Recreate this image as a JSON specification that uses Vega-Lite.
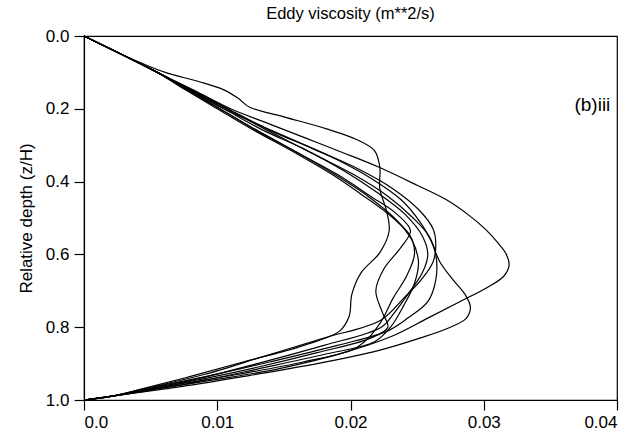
{
"$schema": "https://vega.github.io/schema/vega-lite/v6.json",
"width": 533, "height": 364,
"autosize": "none",
"padding": {"left": 84, "top": 36, "right": 12, "bottom": 45},
"config": {
  "view": {"stroke": "black", "strokeWidth": 1.2},
  "font": "Liberation Sans",
  "axis": {"domainColor": "black", "domainWidth": 1.2, "tickColor": "black", "tickWidth": 1.2, "tickSize": 10, "labelColor": "black", "titleColor": "black", "labelFontSize": 17, "titleFontSize": 17, "titleFontWeight": "normal", "grid": false}
},
"title": {"text": "Eddy viscosity (m**2/s)", "fontSize": 16.5, "fontWeight": "normal", "offset": 5, "anchor": "middle", "frame": "group", "color": "black"},
"layer": [
{
 "data": {"values": [
{"c":"C1","i":0,"x":0,"z":0},{"c":"C1","i":1,"x":0.0028,"z":0.05},{"c":"C1","i":2,"x":0.0055,"z":0.1},{"c":"C1","i":3,"x":0.0083,"z":0.15},{"c":"C1","i":4,"x":0.011,"z":0.2},{"c":"C1","i":5,"x":0.0138,"z":0.24},{"c":"C1","i":6,"x":0.0166,"z":0.28},{"c":"C1","i":7,"x":0.0194,"z":0.32},{"c":"C1","i":8,"x":0.0221,"z":0.36},{"c":"C1","i":9,"x":0.025,"z":0.41},{"c":"C1","i":10,"x":0.0272,"z":0.45},{"c":"C1","i":11,"x":0.0288,"z":0.49},{"c":"C1","i":12,"x":0.0301,"z":0.53},{"c":"C1","i":13,"x":0.0311,"z":0.57},{"c":"C1","i":14,"x":0.0317,"z":0.6},{"c":"C1","i":15,"x":0.0319,"z":0.63},{"c":"C1","i":16,"x":0.0315,"z":0.66},{"c":"C1","i":17,"x":0.0303,"z":0.69},{"c":"C1","i":18,"x":0.0282,"z":0.73},{"c":"C1","i":19,"x":0.0258,"z":0.775},{"c":"C1","i":20,"x":0.0231,"z":0.825},{"c":"C1","i":21,"x":0.0195,"z":0.87},{"c":"C1","i":22,"x":0.0145,"z":0.915},{"c":"C1","i":23,"x":0.0095,"z":0.946},{"c":"C1","i":24,"x":0.006,"z":0.967},{"c":"C1","i":25,"x":0.0035,"z":0.982},{"c":"C1","i":26,"x":0.002,"z":0.99},{"c":"C1","i":27,"x":0,"z":1},
{"c":"C2","i":0,"x":0,"z":0},{"c":"C2","i":1,"x":0.0028,"z":0.05},{"c":"C2","i":2,"x":0.0055,"z":0.1},{"c":"C2","i":3,"x":0.008,"z":0.15},{"c":"C2","i":4,"x":0.0105,"z":0.2},{"c":"C2","i":5,"x":0.0135,"z":0.25},{"c":"C2","i":6,"x":0.016,"z":0.29},{"c":"C2","i":7,"x":0.019,"z":0.34},{"c":"C2","i":8,"x":0.0215,"z":0.39},{"c":"C2","i":9,"x":0.0238,"z":0.45},{"c":"C2","i":10,"x":0.0252,"z":0.51},{"c":"C2","i":11,"x":0.026,"z":0.56},{"c":"C2","i":12,"x":0.0267,"z":0.62},{"c":"C2","i":13,"x":0.0277,"z":0.67},{"c":"C2","i":14,"x":0.0286,"z":0.71},{"c":"C2","i":15,"x":0.029,"z":0.745},{"c":"C2","i":16,"x":0.0287,"z":0.775},{"c":"C2","i":17,"x":0.0275,"z":0.8},{"c":"C2","i":18,"x":0.0252,"z":0.83},{"c":"C2","i":19,"x":0.022,"z":0.865},{"c":"C2","i":20,"x":0.0175,"z":0.9},{"c":"C2","i":21,"x":0.012,"z":0.935},{"c":"C2","i":22,"x":0.0075,"z":0.962},{"c":"C2","i":23,"x":0.004,"z":0.98},{"c":"C2","i":24,"x":0.002,"z":0.99},{"c":"C2","i":25,"x":0,"z":1},
{"c":"C3","i":0,"x":0,"z":0},{"c":"C3","i":1,"x":0.0028,"z":0.05},{"c":"C3","i":2,"x":0.0055,"z":0.1},{"c":"C3","i":3,"x":0.0082,"z":0.15},{"c":"C3","i":4,"x":0.0108,"z":0.2},{"c":"C3","i":5,"x":0.014,"z":0.26},{"c":"C3","i":6,"x":0.0172,"z":0.31},{"c":"C3","i":7,"x":0.0203,"z":0.36},{"c":"C3","i":8,"x":0.0232,"z":0.42},{"c":"C3","i":9,"x":0.0252,"z":0.48},{"c":"C3","i":10,"x":0.0262,"z":0.53},{"c":"C3","i":11,"x":0.0264,"z":0.57},{"c":"C3","i":12,"x":0.0262,"z":0.62},{"c":"C3","i":13,"x":0.0253,"z":0.67},{"c":"C3","i":14,"x":0.024,"z":0.72},{"c":"C3","i":15,"x":0.0223,"z":0.78},{"c":"C3","i":16,"x":0.018,"z":0.83},{"c":"C3","i":17,"x":0.0135,"z":0.88},{"c":"C3","i":18,"x":0.009,"z":0.93},{"c":"C3","i":19,"x":0.005,"z":0.965},{"c":"C3","i":20,"x":0.002,"z":0.99},{"c":"C3","i":21,"x":0,"z":1},
{"c":"C4","i":0,"x":0,"z":0},{"c":"C4","i":1,"x":0.0028,"z":0.05},{"c":"C4","i":2,"x":0.0055,"z":0.1},{"c":"C4","i":3,"x":0.008,"z":0.15},{"c":"C4","i":4,"x":0.0105,"z":0.2},{"c":"C4","i":5,"x":0.0135,"z":0.26},{"c":"C4","i":6,"x":0.0165,"z":0.31},{"c":"C4","i":7,"x":0.0195,"z":0.37},{"c":"C4","i":8,"x":0.022,"z":0.43},{"c":"C4","i":9,"x":0.0241,"z":0.49},{"c":"C4","i":10,"x":0.0254,"z":0.55},{"c":"C4","i":11,"x":0.0258,"z":0.6},{"c":"C4","i":12,"x":0.0254,"z":0.65},{"c":"C4","i":13,"x":0.0243,"z":0.71},{"c":"C4","i":14,"x":0.0233,"z":0.76},{"c":"C4","i":15,"x":0.0223,"z":0.8},{"c":"C4","i":16,"x":0.018,"z":0.85},{"c":"C4","i":17,"x":0.013,"z":0.9},{"c":"C4","i":18,"x":0.0085,"z":0.942},{"c":"C4","i":19,"x":0.0048,"z":0.97},{"c":"C4","i":20,"x":0.002,"z":0.99},{"c":"C4","i":21,"x":0,"z":1},
{"c":"C5","i":0,"x":0,"z":0},{"c":"C5","i":1,"x":0.0028,"z":0.05},{"c":"C5","i":2,"x":0.0055,"z":0.1},{"c":"C5","i":3,"x":0.0078,"z":0.15},{"c":"C5","i":4,"x":0.0102,"z":0.2},{"c":"C5","i":5,"x":0.013,"z":0.26},{"c":"C5","i":6,"x":0.016,"z":0.32},{"c":"C5","i":7,"x":0.0188,"z":0.38},{"c":"C5","i":8,"x":0.0213,"z":0.44},{"c":"C5","i":9,"x":0.0233,"z":0.5},{"c":"C5","i":10,"x":0.0246,"z":0.56},{"c":"C5","i":11,"x":0.0251,"z":0.62},{"c":"C5","i":12,"x":0.0248,"z":0.68},{"c":"C5","i":13,"x":0.024,"z":0.74},{"c":"C5","i":14,"x":0.023,"z":0.8},{"c":"C5","i":15,"x":0.0218,"z":0.84},{"c":"C5","i":16,"x":0.018,"z":0.875},{"c":"C5","i":17,"x":0.013,"z":0.915},{"c":"C5","i":18,"x":0.0085,"z":0.95},{"c":"C5","i":19,"x":0.0048,"z":0.973},{"c":"C5","i":20,"x":0.002,"z":0.99},{"c":"C5","i":21,"x":0,"z":1},
{"c":"C6","i":0,"x":0,"z":0},{"c":"C6","i":1,"x":0.0028,"z":0.05},{"c":"C6","i":2,"x":0.0055,"z":0.1},{"c":"C6","i":3,"x":0.0077,"z":0.15},{"c":"C6","i":4,"x":0.01,"z":0.2},{"c":"C6","i":5,"x":0.0128,"z":0.26},{"c":"C6","i":6,"x":0.0158,"z":0.32},{"c":"C6","i":7,"x":0.0186,"z":0.38},{"c":"C6","i":8,"x":0.021,"z":0.44},{"c":"C6","i":9,"x":0.0232,"z":0.5},{"c":"C6","i":10,"x":0.0245,"z":0.55},{"c":"C6","i":11,"x":0.0248,"z":0.6},{"c":"C6","i":12,"x":0.0242,"z":0.66},{"c":"C6","i":13,"x":0.0232,"z":0.72},{"c":"C6","i":14,"x":0.0222,"z":0.79},{"c":"C6","i":15,"x":0.0205,"z":0.855},{"c":"C6","i":16,"x":0.0165,"z":0.895},{"c":"C6","i":17,"x":0.0115,"z":0.93},{"c":"C6","i":18,"x":0.007,"z":0.957},{"c":"C6","i":19,"x":0.004,"z":0.976},{"c":"C6","i":20,"x":0.002,"z":0.99},{"c":"C6","i":21,"x":0,"z":1},
{"c":"W1","i":0,"x":0,"z":0},{"c":"W1","i":1,"x":0.0028,"z":0.05},{"c":"W1","i":2,"x":0.0061,"z":0.1},{"c":"W1","i":3,"x":0.0086,"z":0.125},{"c":"W1","i":4,"x":0.0105,"z":0.148},{"c":"W1","i":5,"x":0.0116,"z":0.172},{"c":"W1","i":6,"x":0.0124,"z":0.195},{"c":"W1","i":7,"x":0.015,"z":0.222},{"c":"W1","i":8,"x":0.0182,"z":0.255},{"c":"W1","i":9,"x":0.0205,"z":0.285},{"c":"W1","i":10,"x":0.0218,"z":0.315},{"c":"W1","i":11,"x":0.0222,"z":0.36},{"c":"W1","i":12,"x":0.0222,"z":0.42},{"c":"W1","i":13,"x":0.0227,"z":0.48},{"c":"W1","i":14,"x":0.0229,"z":0.535},{"c":"W1","i":15,"x":0.0222,"z":0.595},{"c":"W1","i":16,"x":0.0208,"z":0.65},{"c":"W1","i":17,"x":0.0201,"z":0.71},{"c":"W1","i":18,"x":0.0199,"z":0.77},{"c":"W1","i":19,"x":0.0192,"z":0.81},{"c":"W1","i":20,"x":0.0165,"z":0.85},{"c":"W1","i":21,"x":0.012,"z":0.895},{"c":"W1","i":22,"x":0.008,"z":0.935},{"c":"W1","i":23,"x":0.0045,"z":0.968},{"c":"W1","i":24,"x":0.002,"z":0.99},{"c":"W1","i":25,"x":0,"z":1},
{"c":"W2","i":0,"x":0,"z":0},{"c":"W2","i":1,"x":0.0028,"z":0.05},{"c":"W2","i":2,"x":0.0055,"z":0.1},{"c":"W2","i":3,"x":0.0079,"z":0.15},{"c":"W2","i":4,"x":0.0102,"z":0.2},{"c":"W2","i":5,"x":0.013,"z":0.26},{"c":"W2","i":6,"x":0.016,"z":0.32},{"c":"W2","i":7,"x":0.019,"z":0.38},{"c":"W2","i":8,"x":0.0215,"z":0.44},{"c":"W2","i":9,"x":0.0235,"z":0.49},{"c":"W2","i":10,"x":0.0245,"z":0.535},{"c":"W2","i":11,"x":0.0238,"z":0.58},{"c":"W2","i":12,"x":0.0225,"z":0.64},{"c":"W2","i":13,"x":0.0219,"z":0.7},{"c":"W2","i":14,"x":0.0224,"z":0.76},{"c":"W2","i":15,"x":0.0228,"z":0.8},{"c":"W2","i":16,"x":0.0215,"z":0.83},{"c":"W2","i":17,"x":0.0175,"z":0.87},{"c":"W2","i":18,"x":0.013,"z":0.91},{"c":"W2","i":19,"x":0.0085,"z":0.945},{"c":"W2","i":20,"x":0.0048,"z":0.972},{"c":"W2","i":21,"x":0.002,"z":0.99},{"c":"W2","i":22,"x":0,"z":1},
{"c":"W3","i":0,"x":0,"z":0},{"c":"W3","i":1,"x":0.0028,"z":0.05},{"c":"W3","i":2,"x":0.0055,"z":0.1},{"c":"W3","i":3,"x":0.0081,"z":0.15},{"c":"W3","i":4,"x":0.0107,"z":0.2},{"c":"W3","i":5,"x":0.0138,"z":0.26},{"c":"W3","i":6,"x":0.017,"z":0.32},{"c":"W3","i":7,"x":0.0202,"z":0.38},{"c":"W3","i":8,"x":0.0228,"z":0.44},{"c":"W3","i":9,"x":0.0247,"z":0.5},{"c":"W3","i":10,"x":0.0259,"z":0.55},{"c":"W3","i":11,"x":0.0264,"z":0.6},{"c":"W3","i":12,"x":0.0264,"z":0.67},{"c":"W3","i":13,"x":0.0258,"z":0.73},{"c":"W3","i":14,"x":0.0243,"z":0.775},{"c":"W3","i":15,"x":0.0228,"z":0.81},{"c":"W3","i":16,"x":0.019,"z":0.85},{"c":"W3","i":17,"x":0.014,"z":0.895},{"c":"W3","i":18,"x":0.0092,"z":0.935},{"c":"W3","i":19,"x":0.0052,"z":0.965},{"c":"W3","i":20,"x":0.002,"z":0.99},{"c":"W3","i":21,"x":0,"z":1}
 ]},
 "mark": {"type": "line", "color": "black", "strokeWidth": 1.2, "interpolate": "catmull-rom"},
 "encoding": {
  "x": {"field": "x", "type": "quantitative", "scale": {"domain": [0, 0.04], "nice": false, "zero": false}, "axis": {"values": [0, 0.01, 0.02, 0.03, 0.04], "labelExpr": "datum.value == 0 ? '0.0' : format(datum.value, '.2f')", "title": null, "labelPadding": 4}},
  "y": {"field": "z", "type": "quantitative", "scale": {"domain": [0, 1], "reverse": true, "nice": false}, "axis": {"values": [0, 0.2, 0.4, 0.6, 0.8, 1], "format": ".1f", "title": "Relative depth (z/H)", "labelPadding": 5, "titlePadding": 10}},
  "detail": {"field": "c"},
  "order": {"field": "i", "type": "quantitative"}
 }
},
{
 "data": {"values": [{"label": "(b)iii", "x": 0.0395, "z": 0.19}]},
 "mark": {"type": "text", "align": "right", "baseline": "middle", "fontSize": 19, "color": "black"},
 "encoding": {
  "x": {"field": "x", "type": "quantitative"},
  "y": {"field": "z", "type": "quantitative"},
  "text": {"field": "label"}
 }
}
]
}
